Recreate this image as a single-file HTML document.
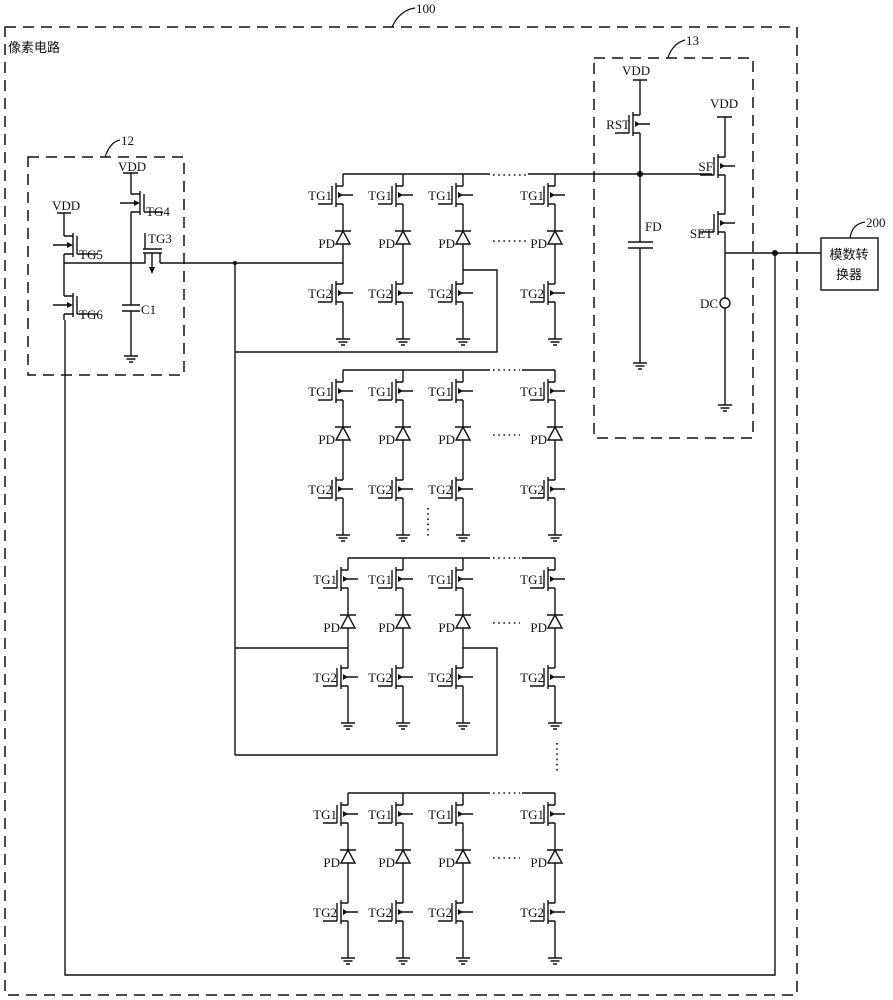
<!DOCTYPE html>
<html><head><meta charset="utf-8"><style>
html,body{margin:0;padding:0;background:#fff}
svg{display:block}
text{font-family:"Liberation Serif","Noto Serif CJK SC",serif;font-size:13px;fill:#111}
.cn{font-family:"Liberation Serif","Noto Sans CJK SC",sans-serif;font-size:13px}
</style></head><body>
<svg width="893" height="1000" viewBox="0 0 893 1000" xmlns="http://www.w3.org/2000/svg">
<defs>
<g id="tr">
 <path d="M0,-9 H-7 M-7,-12 V12 M-7,9 H0 M-11,-9 V9 M-11,9 H-25 M-4,0 H10" stroke="#111" stroke-width="1.4" fill="none"/>
 <polygon points="0,0 -5,-3 -5,3" fill="#111"/>
</g>
<g id="gnd"><path d="M-7,0 H7 M-4.5,3 H4.5 M-2,6 H2" stroke="#111" stroke-width="1.4"/></g>
<g id="cell">
 <path d="M0,0 V12 M0,30 V57 M0,70 V110 M0,128 V165 M-8,57 H8" stroke="#111" stroke-width="1.4" fill="none"/>
 <path d="M0,57 L-7,70 H7 Z" stroke="#111" stroke-width="1.4" fill="#fff"/>
 <use href="#tr" x="0" y="21"/>
 <use href="#tr" x="0" y="119"/>
 <use href="#gnd" x="0" y="165"/>
</g>
</defs>

<g fill="none" stroke="#111" stroke-width="1.5" stroke-dasharray="11 7">
 <rect x="5" y="27" width="792" height="968"/>
 <rect x="28" y="157" width="156" height="218"/>
 <rect x="594" y="58" width="159" height="380"/>
</g>
<path d="M392,27 Q400,10 415,8 M105,157 Q110,142 120,140 M668,58 Q672,44 685,40 M850,238 Q852,224 865,222" stroke="#111" stroke-width="1.2" fill="none"/>
<text x="416" y="13">100</text>
<text x="121" y="145">12</text>
<text x="686" y="45">13</text>
<text x="866" y="227">200</text>
<text class="cn" x="8" y="52">像素电路</text>

<rect x="821" y="238" width="57" height="52" fill="#fff" stroke="#111" stroke-width="1.4"/>
<text class="cn" x="849" y="259" text-anchor="middle">模数转</text>
<text class="cn" x="849" y="279" text-anchor="middle">换器</text>

<use href="#cell" x="343" y="174"/><use href="#cell" x="403" y="174"/><use href="#cell" x="463" y="174"/><use href="#cell" x="555" y="174"/>
<use href="#cell" x="343" y="370"/><use href="#cell" x="403" y="370"/><use href="#cell" x="463" y="370"/><use href="#cell" x="555" y="370"/>
<use href="#cell" x="348" y="558"/><use href="#cell" x="403" y="558"/><use href="#cell" x="463" y="558"/><use href="#cell" x="555" y="558"/>
<use href="#cell" x="348" y="793"/><use href="#cell" x="403" y="793"/><use href="#cell" x="463" y="793"/><use href="#cell" x="555" y="793"/>

<g stroke="#111" stroke-width="1.4" fill="none">
 <path d="M343,174 H490 M528,174 H712 M343,370 H490 M522,370 H555 M348,558 H490 M522,558 H555 M348,793 H490 M522,793 H555"/>
 <path d="M160,263 H343 M235,263 V755 M235,352 H497 V270 H463 M235,648 H348 M235,755 H497 V648 H463"/>
 <path d="M65,320 V975 H775 V253"/>
 <path d="M123,173 H138 M131,173 V194 M131,212 V305 M122,305 H140 M122,311 H140 M131,311 V356"/>
 <path d="M57,213 H71 M64,213 V236 M64,254 V296 M64,314 V320"/>
 <path d="M64,263 H145 V253 M143,253 H162 M160,253 V263 H160 M143,249 H162 M145,249 V233 M152,253 V272"/>
 <path d="M633,80 H647 M640,80 V115 M640,133 V242 M628,242 H653 M628,248 H653 M640,248 V363"/>
 <path d="M717,117 H732 M725,117 V157 M725,175 V214 M725,232 V298 M725,308 V405 M725,253 H821"/>
</g>
<g stroke="#111" stroke-width="1.6" stroke-dasharray="1.6 3.6" fill="none">
 <path d="M493,175 H527 M493,241 H527 M493,370 H520 M493,435 H520 M493,558 H520 M493,623 H520 M493,793 H520 M493,858 H520"/>
 <path d="M428,508 V537 M557,743 V772"/>
</g>
<polygon points="152,274 149,267 155,267" fill="#111"/>
<use href="#gnd" x="131" y="356"/>
<use href="#gnd" x="640" y="363"/>
<use href="#gnd" x="725" y="405"/>
<circle cx="725" cy="303" r="5" fill="#fff" stroke="#111" stroke-width="1.4"/>
<circle cx="640" cy="174" r="3" fill="#111"/>
<circle cx="775" cy="253" r="3" fill="#111"/>
<circle cx="235" cy="263" r="2" fill="#111"/>

<g transform="translate(131,203)">
 <path d="M0,-9 H9 M9,-12 V12 M9,9 H0 M13,-9 V9 M13,9 H32 M-11,0 H7" stroke="#111" stroke-width="1.4" fill="none"/>
 <polygon points="9,0 3,-3 3,3" fill="#111"/>
</g>
<g transform="translate(64,245)">
 <path d="M0,-9 H9 M9,-12 V12 M9,9 H0 M13,-9 V9 M13,9 H34 M-11,0 H7" stroke="#111" stroke-width="1.4" fill="none"/>
 <polygon points="9,0 3,-3 3,3" fill="#111"/>
</g>
<g transform="translate(64,305)">
 <path d="M0,-9 H9 M9,-12 V12 M9,9 H0 M13,-9 V9 M13,9 H34 M-11,0 H7" stroke="#111" stroke-width="1.4" fill="none"/>
 <polygon points="9,0 3,-3 3,3" fill="#111"/>
</g>
<g transform="translate(640,124)"><use href="#tr"/></g>
<g transform="translate(725,166)"><use href="#tr"/></g>
<g transform="translate(725,223)"><use href="#tr"/></g>

<text x="118" y="171">VDD</text>
<text x="52" y="210">VDD</text>
<text x="146" y="216">TG4</text>
<text x="148" y="243">TG3</text>
<text x="79" y="259">TG5</text>
<text x="79" y="319">TG6</text>
<text x="141" y="314">C1</text>
<text x="622" y="75">VDD</text>
<text x="710" y="108">VDD</text>
<text x="630" y="129" text-anchor="end">RST</text>
<text x="713" y="171" text-anchor="end">SF</text>
<text x="713" y="238" text-anchor="end">SET</text>
<text x="645" y="231">FD</text>
<text x="718" y="308" text-anchor="end">DC</text>

<g text-anchor="end">
<text x="332" y="200">TG1</text><text x="392" y="200">TG1</text><text x="452" y="200">TG1</text><text x="544" y="200">TG1</text>
<text x="335" y="248">PD</text><text x="395" y="248">PD</text><text x="455" y="248">PD</text><text x="547" y="248">PD</text>
<text x="332" y="298">TG2</text><text x="392" y="298">TG2</text><text x="452" y="298">TG2</text><text x="544" y="298">TG2</text>

<text x="332" y="396">TG1</text><text x="392" y="396">TG1</text><text x="452" y="396">TG1</text><text x="544" y="396">TG1</text>
<text x="335" y="444">PD</text><text x="395" y="444">PD</text><text x="455" y="444">PD</text><text x="547" y="444">PD</text>
<text x="332" y="494">TG2</text><text x="392" y="494">TG2</text><text x="452" y="494">TG2</text><text x="544" y="494">TG2</text>

<text x="337" y="584">TG1</text><text x="392" y="584">TG1</text><text x="452" y="584">TG1</text><text x="544" y="584">TG1</text>
<text x="340" y="632">PD</text><text x="395" y="632">PD</text><text x="455" y="632">PD</text><text x="547" y="632">PD</text>
<text x="337" y="682">TG2</text><text x="392" y="682">TG2</text><text x="452" y="682">TG2</text><text x="544" y="682">TG2</text>

<text x="337" y="819">TG1</text><text x="392" y="819">TG1</text><text x="452" y="819">TG1</text><text x="544" y="819">TG1</text>
<text x="340" y="867">PD</text><text x="395" y="867">PD</text><text x="455" y="867">PD</text><text x="547" y="867">PD</text>
<text x="337" y="917">TG2</text><text x="392" y="917">TG2</text><text x="452" y="917">TG2</text><text x="544" y="917">TG2</text>
</g>
</svg>
</body></html>
